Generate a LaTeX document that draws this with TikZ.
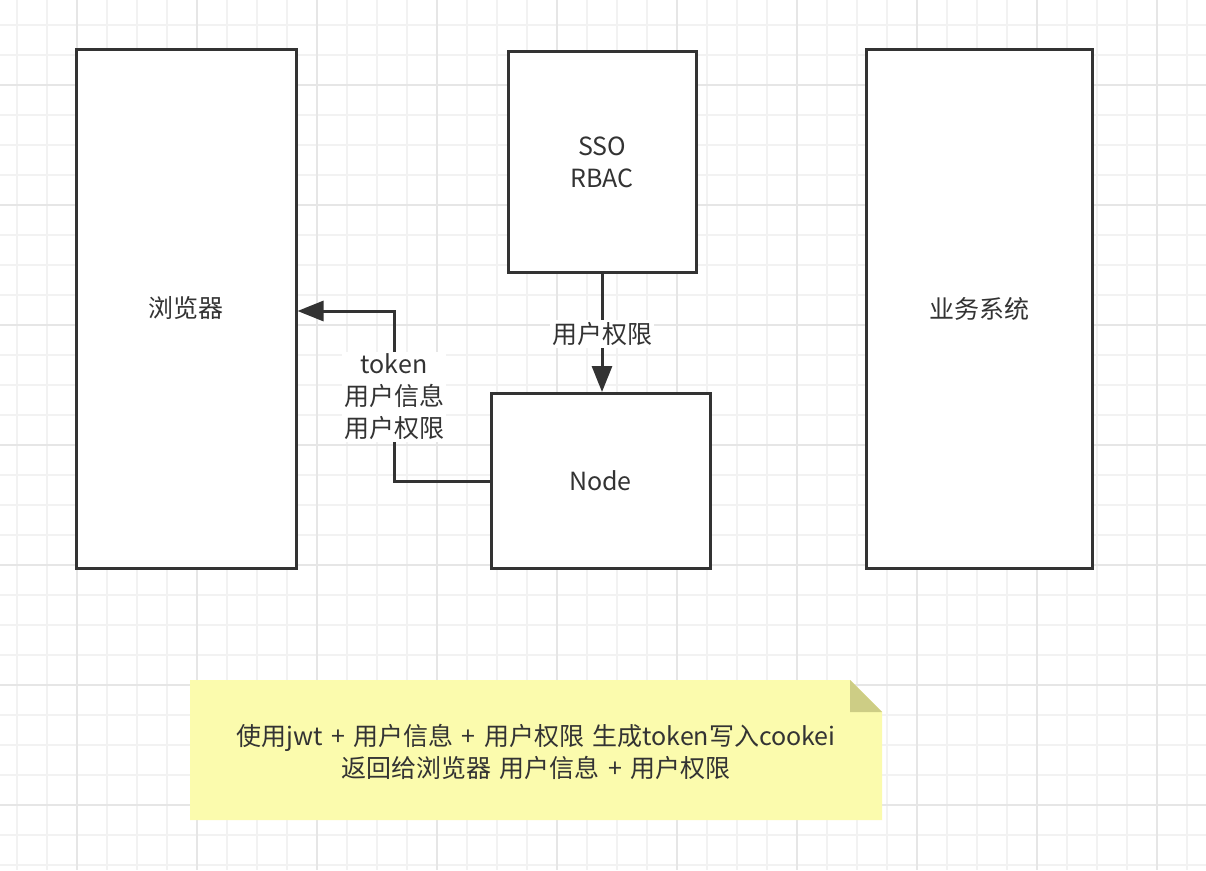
\documentclass[tikz,border=0pt]{standalone}
\usepackage{fontspec}
\setmainfont[WordSpace=1.5]{Noto Sans CJK SC}
\usetikzlibrary{arrows.meta}
\definecolor{ink}{HTML}{333333}
\definecolor{gridminor}{HTML}{F2F2F2}
\definecolor{gridmajor}{HTML}{E6E6E6}
\definecolor{notefill}{HTML}{FBFBAD}
\definecolor{notefold}{HTML}{CDCD85}
\tikzset{
  box/.style={draw=ink, line width=3pt, fill=white, inner sep=0pt, align=center, text=ink},
  lbl/.style={fill=white, inner sep=2pt, align=center, text=ink},
  arr/.style={draw=ink, line width=3pt, -{Triangle[length=26pt,width=20pt]}},
}
\begin{document}
\begin{tikzpicture}[x=1pt,y=-1pt, font=\fontsize{25}{32}\selectfont]
\useasboundingbox (0,0) rectangle (1206,870);
\fill[white] (0,0) rectangle (1206,870);
% grid
\foreach \x in {17,47,...,1206} \draw[gridminor, line width=1.2pt] (\x,0) -- (\x,870);
\foreach \y in {25,55,...,870} \draw[gridminor, line width=1.2pt] (0,\y) -- (1206,\y);
\foreach \x in {77,197,...,1206} \draw[gridmajor, line width=1.6pt] (\x,0) -- (\x,870);
\foreach \y in {85,205,...,870} \draw[gridmajor, line width=1.6pt] (0,\y) -- (1206,\y);
% boxes
\node[box, minimum width=220pt, minimum height=519pt] (browser) at (186,308.5) {浏览器};
\node[box, minimum width=188pt, minimum height=221pt] (sso) at (602,162) {SSO\\RBAC};
\node[box, minimum width=219pt, minimum height=175pt] (nodebox) at (600.5,481) {Node};
\node[box, minimum width=226pt, minimum height=519pt] (biz) at (979,308.5) {业务系统};
% connectors
\coordinate (turn) at (394,311);
\draw[arr] (nodebox.west) -| (turn) -- (browser.east |- turn);
\node[lbl] (lbl1) at (394,397) {token\\用户信息\\用户权限};
\draw[arr] (sso.south) -- (sso.south |- nodebox.north);
\node[lbl] (lbl2) at (602,334) {用户权限};
% note
\fill[notefill] (190,680) -- (850,680) -- (882,712) -- (882,820) -- (190,820) -- cycle;
\fill[notefold] (850,680) -- (850,712) -- (882,712) -- cycle;
\node[align=center, text=ink] (note) at (536,752) {使用jwt + 用户信息 + 用户权限 生成token写入cookei\\返回给浏览器 用户信息 + 用户权限};
\end{tikzpicture}
\end{document}
